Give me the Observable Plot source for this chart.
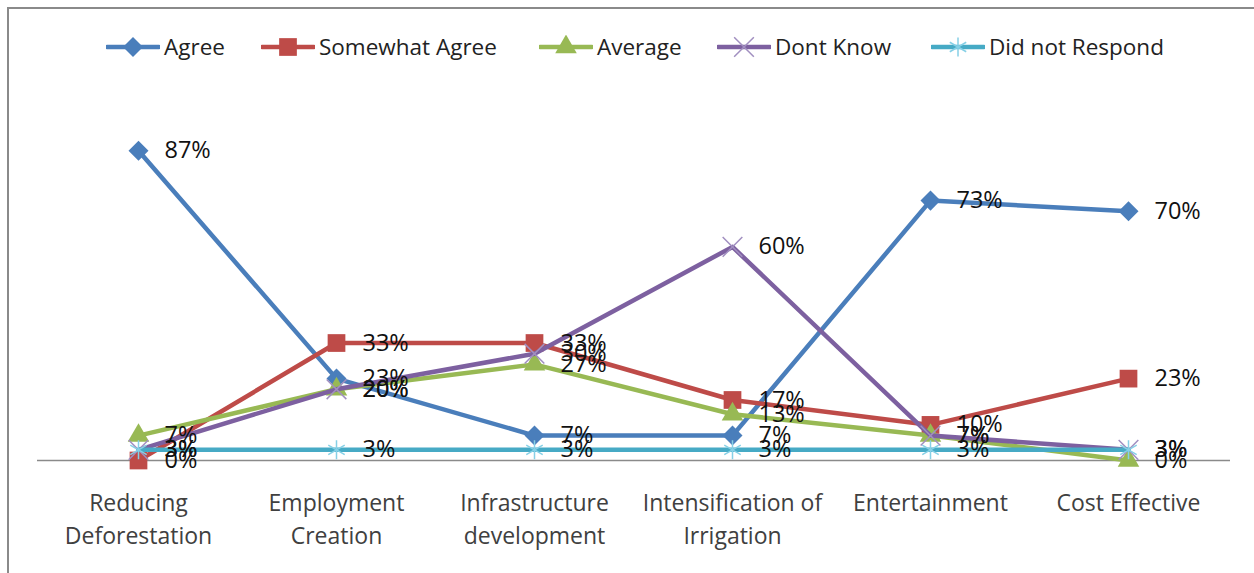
<!DOCTYPE html>
<html>
<head>
<meta charset="utf-8">
<script src="https://cdn.jsdelivr.net/npm/d3@7"></script>
<script src="https://cdn.jsdelivr.net/npm/@observablehq/plot@0.6"></script>
<style>
  html, body { margin: 0; padding: 0; background: #fff; overflow: hidden; }
  #wrap { position: relative; width: 1254px; height: 573px; font-family: "Open Sans", sans-serif; }
  #frame { position: absolute; left: 7px; top: 7px; width: 1300px; height: 700px; border: 2px solid #8a8a8a; box-sizing: border-box; pointer-events: none; }
  #legend { position: absolute; left: 0; top: 31px; width: 1254px; height: 30px; font-size: 22.5px; color: #222; white-space: nowrap; }
  .item { position: absolute; top: 0; display: flex; align-items: center; gap: 4px; }
  #chart { position: absolute; left: 0; top: 0; }
</style>
</head>
<body>
<div id="wrap">
  <div id="chart"></div>
  <div id="legend"></div>
  <div id="frame"></div>
</div>
<script>
const categories = ["Reducing\nDeforestation", "Employment\nCreation", "Infrastructure\ndevelopment", "Intensification of\nIrrigation", "Entertainment", "Cost Effective"];
const seriesNames = ["Agree", "Somewhat Agree", "Average", "Dont Know", "Did not Respond"];
const agree = [87, 23, 7, 7, 73, 70];
const somewhatAgree = [0, 33, 33, 17, 10, 23];
const average = [7, 20, 27, 13, 7, 0];
const dontKnow = [3, 20, 30, 60, 7, 3];
const didNotRespond = [3, 3, 3, 3, 3, 3];
const seriesValues = [agree, somewhatAgree, average, dontKnow, didNotRespond];

// square rotated 45° (Excel-style diamond marker)
const rhombus = {
  draw(ctx, size) {
    const r = Math.sqrt(size / 2);
    ctx.moveTo(0, -r); ctx.lineTo(r, 0); ctx.lineTo(0, r); ctx.lineTo(-r, 0); ctx.closePath();
  }
};

const styles = [
  {color: "#4A7EBB", symbol: rhombus, r: 8, fill: "#4A7EBB", stroke: "none", sw: 0},
  {color: "#BE4B48", symbol: d3.symbolSquare, r: 10, fill: "#BE4B48", stroke: "none", sw: 0},
  {color: "#98B954", symbol: d3.symbolTriangle, r: 8, fill: "#98B954", stroke: "none", sw: 0},
  {color: "#7D60A0", symbol: d3.symbolTimes, r: 9, fill: "none", stroke: "#A18FC0", sw: 1.5},
  {color: "#46AAC5", symbol: d3.symbolAsterisk, r: 9, fill: "none", stroke: "#86D0E6", sw: 1.5}
];
const legendX = [107, 262, 540, 718, 932];

const rows = [];
seriesNames.forEach((s, si) => {
  categories.forEach((c, i) => rows.push({series: s, si, cat: c, value: seriesValues[si][i]}));
});

const marks = [Plot.ruleY([0], {stroke: "#8a8a8a", strokeWidth: 1.5})];
seriesNames.forEach((s, si) => {
  const st = styles[si];
  const data = rows.filter(d => d.si === si);
  marks.push(Plot.line(data, {x: "cat", y: "value", stroke: st.color, strokeWidth: 4.5, strokeLinejoin: "round"}));
  marks.push(Plot.dot(data, {x: "cat", y: "value", symbol: st.symbol, r: st.r, fill: st.fill, stroke: st.stroke, strokeWidth: st.sw}));
});
marks.push(Plot.text(rows, {x: "cat", y: "value", text: d => d.value + "%", dx: 26, textAnchor: "start", fontSize: 23.5, fill: "#111"}));
marks.push(Plot.axisX({tickSize: 0, tickPadding: 28, fontSize: 23, fill: "#404040", label: null, lineHeight: 1.4}));

const chart = Plot.plot({
  width: 1254,
  height: 573,
  marginLeft: 37,
  marginRight: 24,
  marginTop: 0,
  marginBottom: 113,
  style: {fontFamily: "'Open Sans', sans-serif", background: "transparent", overflow: "visible"},
  x: {type: "point", domain: categories, range: [137, 1128], padding: 0},
  y: {domain: [0, 100], range: [460, 104], axis: null},
  marks
});
document.getElementById("chart").appendChild(chart);

// legend
const legend = d3.select("#legend");
seriesNames.forEach((s, si) => {
  const st = styles[si];
  const item = legend.append("div").attr("class", "item").style("left", (legendX[si] - 1) + "px");
  const svg = item.append("svg").attr("width", 54).attr("height", 24);
  svg.append("line").attr("x1", 1).attr("x2", 53).attr("y1", 12).attr("y2", 12)
    .attr("stroke", st.color).attr("stroke-width", 4.5).attr("stroke-linecap", "round");
  svg.append("path").attr("transform", "translate(27,12)")
    .attr("d", d3.symbol(st.symbol, Math.PI * st.r * st.r)())
    .attr("fill", st.fill).attr("stroke", st.stroke).attr("stroke-width", st.sw);
  item.append("span").text(s);
});
</script>
</body>
</html>
